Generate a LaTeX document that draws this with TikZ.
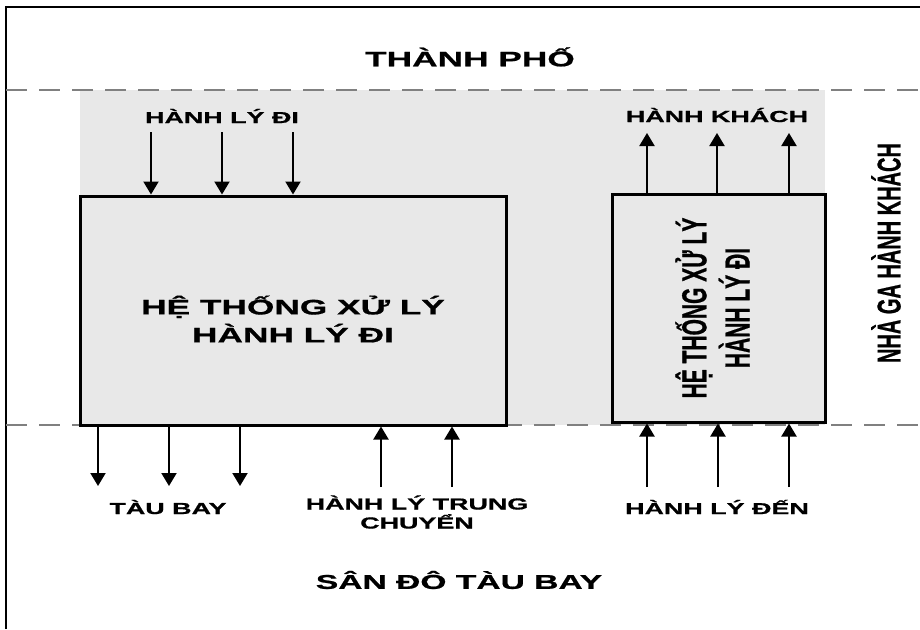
\documentclass[tikz,border=0pt]{standalone}
\usepackage{fontspec}
\setmainfont{Liberation Sans}
\newfontfamily\widesans{Liberation Sans}[FakeStretch=1.68,FakeBold=0.8]
\newfontfamily\tallsans{Liberation Sans}[FakeBold=0.8]
\usetikzlibrary{arrows.meta}
\definecolor{zonegray}{HTML}{E8E8E8}
\definecolor{dashgray}{HTML}{808080}

\begin{document}
\begin{tikzpicture}[x=1pt,y=-1pt,
  flow/.style={line width=2pt, -{Triangle[width=15pt,length=13pt]}},
  zoneline/.style={dashgray, line width=1.2pt, dash pattern=on 21pt off 12pt},
  sysbox/.style={draw=black, line width=3pt, fill=zonegray, inner sep=0pt},
  lbl/.style={font=\widesans\bfseries\fontsize{16}{19}\selectfont, align=center, inner sep=0pt},
  title/.style={font=\widesans\bfseries\fontsize{21}{28}\selectfont, align=center, inner sep=0pt}]

\useasboundingbox (0,0) rectangle (920,629);

% terminal zone shading
\fill[zonegray] (80,90) rectangle (825,425);

% frame
\draw[line width=2pt] (6,629) -- (6,7) -- (920,7);

% zone boundaries
\draw[zoneline] (6,90) -- (920,90);
\draw[zoneline] (6,425) -- (920,425);

% processing systems
\node[sysbox, minimum width=426pt, minimum height=229pt] (sysA) at (293.5,310.5) {};
\node[title] (sysAtext) at (293,319) {HỆ THỐNG XỬ LÝ\\HÀNH LÝ ĐI};
\node[sysbox, minimum width=213pt, minimum height=228pt]
  (sysB) at (718.5,308)
  {\rotatebox{90}{\scalebox{1}[1.65]{\tallsans\bfseries\fontsize{21}{25}\selectfont
    \begin{tabular}{@{}c@{}}HỆ THỐNG XỬ LÝ\\HÀNH LÝ ĐI\end{tabular}}}};

% zone titles
\node[title] (city) at (470,57) {THÀNH PHỐ};
\node[title, font=\widesans\bfseries\fontsize{20}{24}\selectfont] (apron) at (459,580) {SÂN ĐÔ TÀU BAY};
\node[inner sep=0pt] (terminal) at (886,253)
  {\rotatebox{90}{\scalebox{1}[1.65]{\tallsans\bfseries\fontsize{20}{24}\selectfont NHÀ GA HÀNH KHÁCH}}};

% flow labels
\node[lbl] (depIn) at (222,116) {HÀNH LÝ ĐI};
\node[lbl] (paxOut) at (717,115) {HÀNH KHÁCH};
\node[lbl] (plane) at (168,507) {TÀU BAY};
\node[lbl] (transfer) at (417,512) {HÀNH LÝ TRUNG\\CHUYỂN};
\node[lbl] (arrIn) at (717,507) {HÀNH LÝ ĐẾN};

% departing bags into system A
\foreach \i/\x in {1/151,2/222,3/293}{
  \coordinate (d\i) at (\x,132);
  \draw[flow] (d\i) -- (d\i |- sysA.north);
}
% passengers out of system B
\foreach \i/\x in {1/647,2/717,3/789}{
  \coordinate (p\i) at (\x,133);
  \draw[flow] (p\i |- sysB.north) -- (p\i);
}
% bags out to aircraft
\foreach \i/\x in {1/98,2/169,3/240}{
  \coordinate (t\i) at (\x,486);
  \draw[flow] (t\i |- sysA.south) -- (t\i);
}
% transfer bags into system A
\foreach \i/\x in {1/381,2/452}{
  \coordinate (r\i) at (\x,487);
  \draw[flow] (r\i) -- (r\i |- sysA.south);
}
% arriving bags into system B
\foreach \i/\x in {1/647,2/718,3/789}{
  \coordinate (a\i) at (\x,487);
  \draw[flow] (a\i) -- (a\i |- sysB.south);
}
\end{tikzpicture}
\end{document}
